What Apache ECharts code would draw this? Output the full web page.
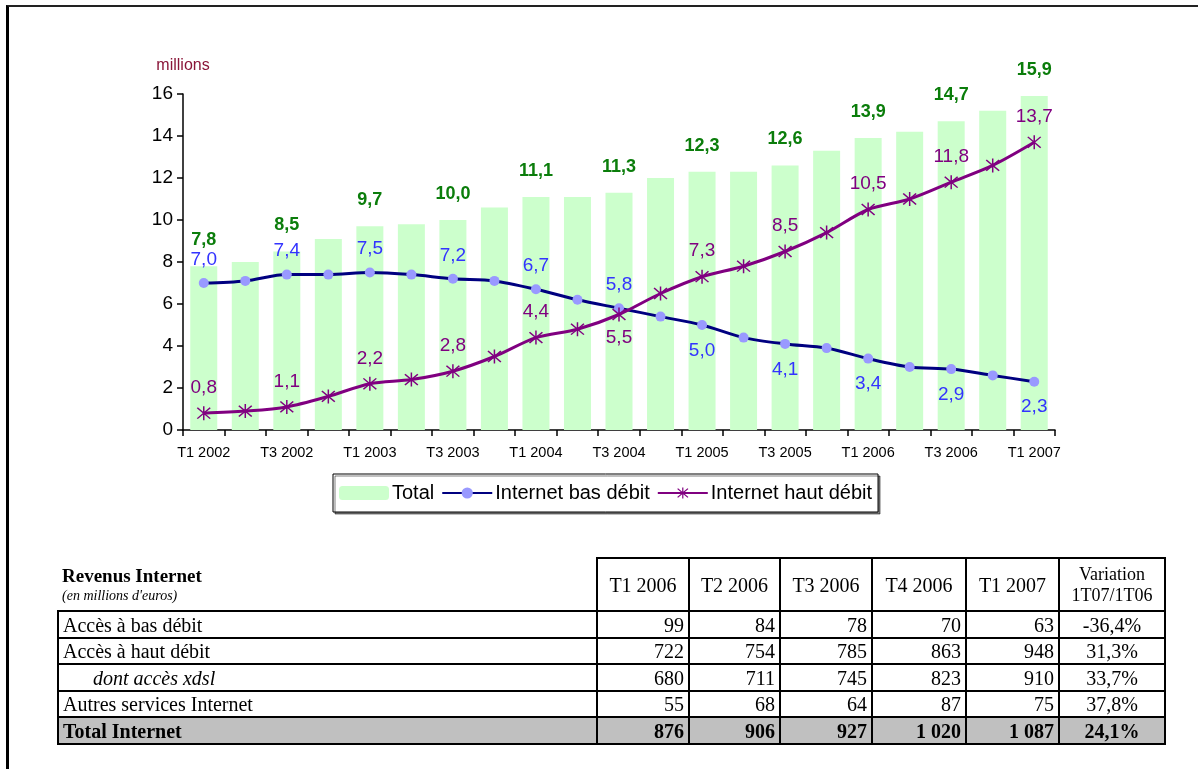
<!DOCTYPE html>
<html>
<head>
<meta charset="utf-8">
<script src="https://cdn.jsdelivr.net/npm/echarts@6/dist/echarts.min.js"></script>
<style>
  html, body { margin:0; padding:0; background:#fff; }
  #chart { position:absolute; left:0; top:0; width:1198px; height:769px; }
  #frame { position:absolute; left:6px; top:5px; width:1192px; height:764px; border-top:2px solid #222; border-left:3px solid #000; box-sizing:border-box; pointer-events:none; }
  #tbl { position:absolute; left:57px; top:557px; border-collapse:collapse; table-layout:fixed; width:1107px;
         font-family:"Liberation Serif","Times New Roman",serif; font-size:20px; color:#000; }
  #tbl td { border:2px solid #000; padding:0 4px 0 4px; line-height:20px; white-space:nowrap; overflow:hidden; }
  #tbl td.num { text-align:right; }
  #tbl td.ctr { text-align:center; }
  #tbl td.hd { border-top:none; border-left:none; vertical-align:bottom; padding-bottom:5px; }
  #tbl tr.total td { background:#C0C0C0; font-weight:bold; }
</style>
</head>
<body>
<div id="chart"></div>
<div id="frame"></div>
<table id="tbl"></table>
<script>
// ---- chart data ----
const categories = ['T1 2002','T2 2002','T3 2002','T4 2002','T1 2003','T2 2003','T3 2003','T4 2003',
  'T1 2004','T2 2004','T3 2004','T4 2004','T1 2005','T2 2005','T3 2005','T4 2005',
  'T1 2006','T2 2006','T3 2006','T4 2006','T1 2007'];
const totalValues = [7.8, 8.0, 8.5, 9.1, 9.7, 9.8, 10.0, 10.6, 11.1, 11.1, 11.3, 12.0, 12.3, 12.3, 12.6, 13.3, 13.9, 14.2, 14.7, 15.2, 15.9];
const basDebitValues = [7.0, 7.1, 7.4, 7.4, 7.5, 7.4, 7.2, 7.1, 6.7, 6.2, 5.8, 5.4, 5.0, 4.4, 4.1, 3.9, 3.4, 3.0, 2.9, 2.6, 2.3];
const hautDebitValues = [0.8, 0.9, 1.1, 1.6, 2.2, 2.4, 2.8, 3.5, 4.4, 4.8, 5.5, 6.5, 7.3, 7.8, 8.5, 9.4, 10.5, 11.0, 11.8, 12.6, 13.7];
const yTicks = [0, 2, 4, 6, 8, 10, 12, 14, 16];
const seriesNames = ['Total', 'Internet bas débit', 'Internet haut débit'];
const unitLabel = 'millions';

// ---- table data ----
const tableTitle = 'Revenus Internet';
const tableSubtitle = "(en millions d'euros)";
const tableColumns = ['T1 2006', 'T2 2006', 'T3 2006', 'T4 2006', 'T1 2007'];
const variationHeader = ['Variation', '1T07/1T06'];
const rowLabels = ['Accès à bas débit', 'Accès à haut débit', 'dont accès xdsl', 'Autres services Internet', 'Total Internet'];
const revBasDebit = [99, 84, 78, 70, 63];
const revHautDebit = [722, 754, 785, 863, 948];
const revXdsl = [680, 711, 745, 823, 910];
const revAutres = [55, 68, 64, 87, 75];
const revTotal = [876, 906, 927, 1020, 1087];
const variations = ['-36,4%', '31,3%', '33,7%', '37,8%', '24,1%'];

// ---- helpers ----
const fr = v => v.toFixed(1).replace('.', ',');
const fmtInt = n => String(n).replace(/\B(?=(\d{3})+(?!\d))/g, '\u00a0');

const FONT = '"Liberation Sans", Arial, sans-serif';

// asterisk symbol (X plus vertical bar) as filled thin bars
const asterisk = 'path://M9.1,0 L10.9,0 L10.9,20 L9.1,20 Z ' +
  'M1.6,2.9 L2.9,1.6 L18.4,17.1 L17.1,18.4 Z ' +
  'M17.1,1.6 L18.4,2.9 L2.9,18.4 L1.6,17.1 Z';

const chart = echarts.init(document.getElementById('chart'), null, { renderer: 'canvas' });

const option = {
  animation: false,
  backgroundColor: '#fff',
  textStyle: { fontFamily: FONT },
  grid: { left: 183, top: 94, width: 872, height: 336, containLabel: false },
  legend: {
    left: 333, top: 474,
    itemWidth: 50, itemHeight: 14, itemGap: 7,
    padding: [9, 6, 9, 6],
    borderColor: '#000', borderWidth: 1,
    backgroundColor: '#fff',
    shadowColor: 'rgba(0,0,0,0.5)', shadowOffsetX: 2, shadowOffsetY: 2, shadowBlur: 0,
    textStyle: { fontSize: 20, color: '#000', fontFamily: FONT, padding: [0, 0, 0, -2] },
    data: seriesNames.map(n => ({ name: n }))
  },
  xAxis: {
    type: 'category',
    data: categories,
    boundaryGap: true,
    axisLine: { show: true, lineStyle: { color: '#000', width: 1.5 } },
    axisTick: { show: true, interval: 0, length: 6, alignWithLabel: false, lineStyle: { color: '#000', width: 1.5 } },
    axisLabel: { interval: 1, fontSize: 14.5, color: '#000', margin: 15, fontFamily: FONT },
    splitLine: { show: false }
  },
  yAxis: {
    type: 'value',
    min: yTicks[0], max: yTicks[yTicks.length - 1], interval: yTicks[1] - yTicks[0],
    name: unitLabel,
    nameLocation: 'end',
    nameGap: 20,
    nameTextStyle: { color: '#8a1538', fontSize: 16, fontFamily: FONT, align: 'center' },
    axisLine: { show: true, lineStyle: { color: '#000', width: 1.5 } },
    axisTick: { show: true, inside: false, length: 6, lineStyle: { color: '#000', width: 1.5 } },
    axisLabel: { fontSize: 19, color: '#000', margin: 10, fontFamily: FONT },
    splitLine: { show: false }
  },
  series: [
    {
      name: seriesNames[0],
      type: 'bar',
      barWidth: 27,
      itemStyle: { color: '#CCFFCC' },
      data: totalValues.map((v, i) => ({
        value: v,
        label: { show: i % 2 === 0 }
      })),
      label: {
        position: 'top', distance: 17,
        formatter: p => fr(p.value),
        color: '#0b7d0b', fontWeight: 'bold', fontSize: 18, fontFamily: FONT
      },
      z: 1
    },
    {
      name: seriesNames[1],
      type: 'line',
      smooth: 0.3,
      symbol: 'circle',
      symbolSize: 10,
      lineStyle: { color: '#000080', width: 3 },
      itemStyle: { color: '#9999FF' },
      data: basDebitValues.map((v, i) => ({
        value: v,
        label: { show: i % 2 === 0, position: i <= 10 ? 'top' : 'bottom', distance: i <= 10 ? 9 : 11 }
      })),
      label: {
        formatter: p => fr(p.value),
        color: '#3333FF', fontSize: 19, fontFamily: FONT
      },
      z: 3
    },
    {
      name: seriesNames[2],
      type: 'line',
      smooth: 0.3,
      symbol: asterisk,
      symbolSize: 14,
      lineStyle: { color: '#800080', width: 3 },
      itemStyle: { color: '#800080' },
      data: hautDebitValues.map((v, i) => ({
        value: v,
        label: { show: i % 2 === 0, position: i === 10 ? 'bottom' : 'top', distance: i === 10 ? 7 : 9 }
      })),
      label: {
        formatter: p => fr(p.value),
        color: '#800080', fontSize: 19, fontFamily: FONT
      },
      z: 4
    }
  ]
};
chart.setOption(option);

// ---- build table ----
(function buildTable() {
  const tbl = document.getElementById('tbl');
  const colWidths = [539, 92, 91, 92, 94, 93, 106];
  const cg = document.createElement('colgroup');
  colWidths.forEach(w => { const c = document.createElement('col'); c.style.width = w + 'px'; cg.appendChild(c); });
  tbl.appendChild(cg);

  const hr = document.createElement('tr');
  hr.style.height = '53px';
  const h0 = document.createElement('td');
  h0.className = 'hd';
  h0.innerHTML = '<div style="font-weight:bold;font-size:19px;line-height:22px;">' + tableTitle +
    '</div><div style="font-style:italic;font-size:14px;line-height:18px;">' + tableSubtitle + '</div>';
  hr.appendChild(h0);
  tableColumns.forEach(c => {
    const td = document.createElement('td'); td.className = 'ctr'; td.textContent = c; hr.appendChild(td);
  });
  const hv = document.createElement('td'); hv.className = 'ctr';
  hv.style.fontSize = '18px'; hv.style.lineHeight = '21px';
  hv.innerHTML = variationHeader.join('<br>');
  hr.appendChild(hv);
  tbl.appendChild(hr);

  const rows = [revBasDebit, revHautDebit, revXdsl, revAutres, revTotal];
  const heights = [27, 26, 27, 26, 27];
  rows.forEach((vals, r) => {
    const tr = document.createElement('tr');
    tr.style.height = heights[r] + 'px';
    if (r === rows.length - 1) tr.className = 'total';
    const l = document.createElement('td');
    l.textContent = rowLabels[r];
    if (r === 2) { l.style.fontStyle = 'italic'; l.style.paddingLeft = '34px'; }
    tr.appendChild(l);
    vals.forEach(v => {
      const td = document.createElement('td'); td.className = 'num'; td.textContent = fmtInt(v); tr.appendChild(td);
    });
    const vt = document.createElement('td'); vt.className = 'ctr'; vt.textContent = variations[r]; tr.appendChild(vt);
    tbl.appendChild(tr);
  });
})();
</script>
</body>
</html>
